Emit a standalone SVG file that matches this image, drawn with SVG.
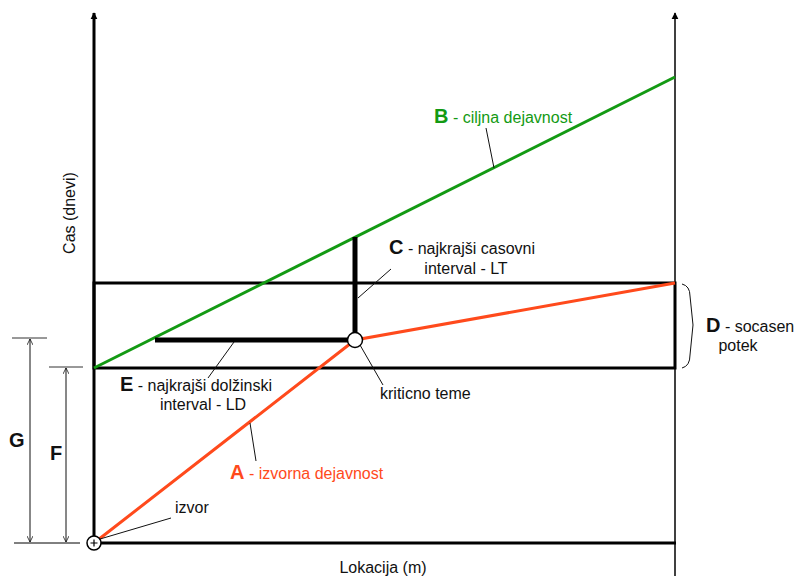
<svg xmlns="http://www.w3.org/2000/svg" width="796" height="576" viewBox="0 0 796 576">
<style>
text{font-family:"Liberation Sans",Arial,sans-serif;font-size:16px;fill:#111}
.b{font-weight:bold;font-size:20px}
.g{fill:#139a13}
.o{fill:#ff4a1c}
.lead{stroke:#111;stroke-width:1;fill:none}
.thick{stroke:#000;stroke-width:3;fill:none}
</style>
<defs>
<marker id="ax" viewBox="0 0 10 10" refX="9" refY="5" markerWidth="7" markerHeight="10" markerUnits="userSpaceOnUse" orient="auto"><path d="M0,0L10,5L0,10z" fill="#000"/></marker>
<marker id="dim" viewBox="0 0 10 10" refX="10" refY="5" markerWidth="8" markerHeight="6" markerUnits="userSpaceOnUse" orient="auto"><path d="M0,0L10,5L0,10" fill="none" stroke="#000" stroke-width="1.2"/></marker>
</defs>
<g id="axes">
<line x1="94" y1="545" x2="94" y2="13" stroke="#000" stroke-width="3" marker-end="url(#ax)"/>
<line x1="675" y1="576" x2="675" y2="13" stroke="#000" stroke-width="1.5" marker-end="url(#ax)"/>
<line x1="92" y1="543" x2="676" y2="543" stroke="#000" stroke-width="3"/>
<text x="383" y="573" text-anchor="middle">Lokacija (m)</text>
<text transform="translate(75,213) rotate(-90)" text-anchor="middle">Cas (dnevi)</text>
</g>
<g id="box-D">
<rect x="94" y="283" width="581" height="85" class="thick"/>
</g>
<g id="connectors">
<line x1="94" y1="368" x2="675" y2="77" stroke="#139a13" stroke-width="3"/>
<polyline points="94,543 355,340 675,283" fill="none" stroke="#ff4a1c" stroke-width="3"/>
<line x1="355" y1="237" x2="355" y2="340" stroke="#000" stroke-width="5"/>
<line x1="155" y1="340" x2="355" y2="340" stroke="#000" stroke-width="5"/>
<line x1="486" y1="128" x2="494" y2="168" class="lead"/>
<line x1="391" y1="269" x2="358" y2="298" class="lead"/>
<line x1="234" y1="342" x2="208" y2="378" class="lead"/>
<line x1="360" y1="345" x2="383" y2="385" class="lead"/>
<line x1="250" y1="423" x2="256" y2="461" class="lead"/>
<line x1="100" y1="539" x2="171" y2="518" class="lead"/>
<path d="M682,284 Q690,286 690,296 L693,325 L690,355 Q690,366 682,368" class="lead"/>
</g>
<g id="dimensions">
<line x1="12" y1="338" x2="47" y2="338" stroke="#333" stroke-width="1"/>
<line x1="49" y1="367" x2="83" y2="367" stroke="#333" stroke-width="1"/>
<line x1="14" y1="543" x2="80" y2="543" stroke="#000" stroke-width="1"/>
<line x1="30" y1="440" x2="30" y2="339" class="lead" marker-end="url(#dim)"/>
<line x1="30" y1="440" x2="30" y2="542" class="lead" marker-end="url(#dim)"/>
<line x1="66" y1="455" x2="66" y2="368" class="lead" marker-end="url(#dim)"/>
<line x1="66" y1="455" x2="66" y2="542" class="lead" marker-end="url(#dim)"/>
<text x="9" y="447" class="b">G</text>
<text x="50" y="460" class="b">F</text>
</g>
<g id="node-izvor">
<circle cx="94" cy="543" r="7" fill="#fff" stroke="#000" stroke-width="1.5"/>
<path d="M90.5,543H97.5M94,539.5V546.5" stroke="#000" stroke-width="1.2"/>
<text x="175" y="513">izvor</text>
</g>
<g id="node-kriticno">
<circle cx="355" cy="340" r="7.5" fill="#fff" stroke="#000" stroke-width="1.5"/>
<text x="380" y="399">kriticno teme</text>
</g>
<g id="label-A">
<text x="230" y="479" class="o"><tspan class="b o">A</tspan> - izvorna dejavnost</text>
</g>
<g id="label-B">
<text x="434" y="123" class="g"><tspan class="b g">B</tspan> - ciljna dejavnost</text>
</g>
<g id="label-C">
<text x="389" y="254"><tspan class="b">C</tspan> - najkrajši casovni</text>
<text x="466" y="274" text-anchor="middle">interval - LT</text>
</g>
<g id="label-D">
<text x="706" y="332"><tspan class="b">D</tspan> - socasen</text>
<text x="738" y="351" text-anchor="middle">potek</text>
</g>
<g id="label-E">
<text x="120" y="391"><tspan class="b">E</tspan> - najkrajši dolžinski</text>
<text x="203" y="410" text-anchor="middle">interval - LD</text>
</g>
</svg>
